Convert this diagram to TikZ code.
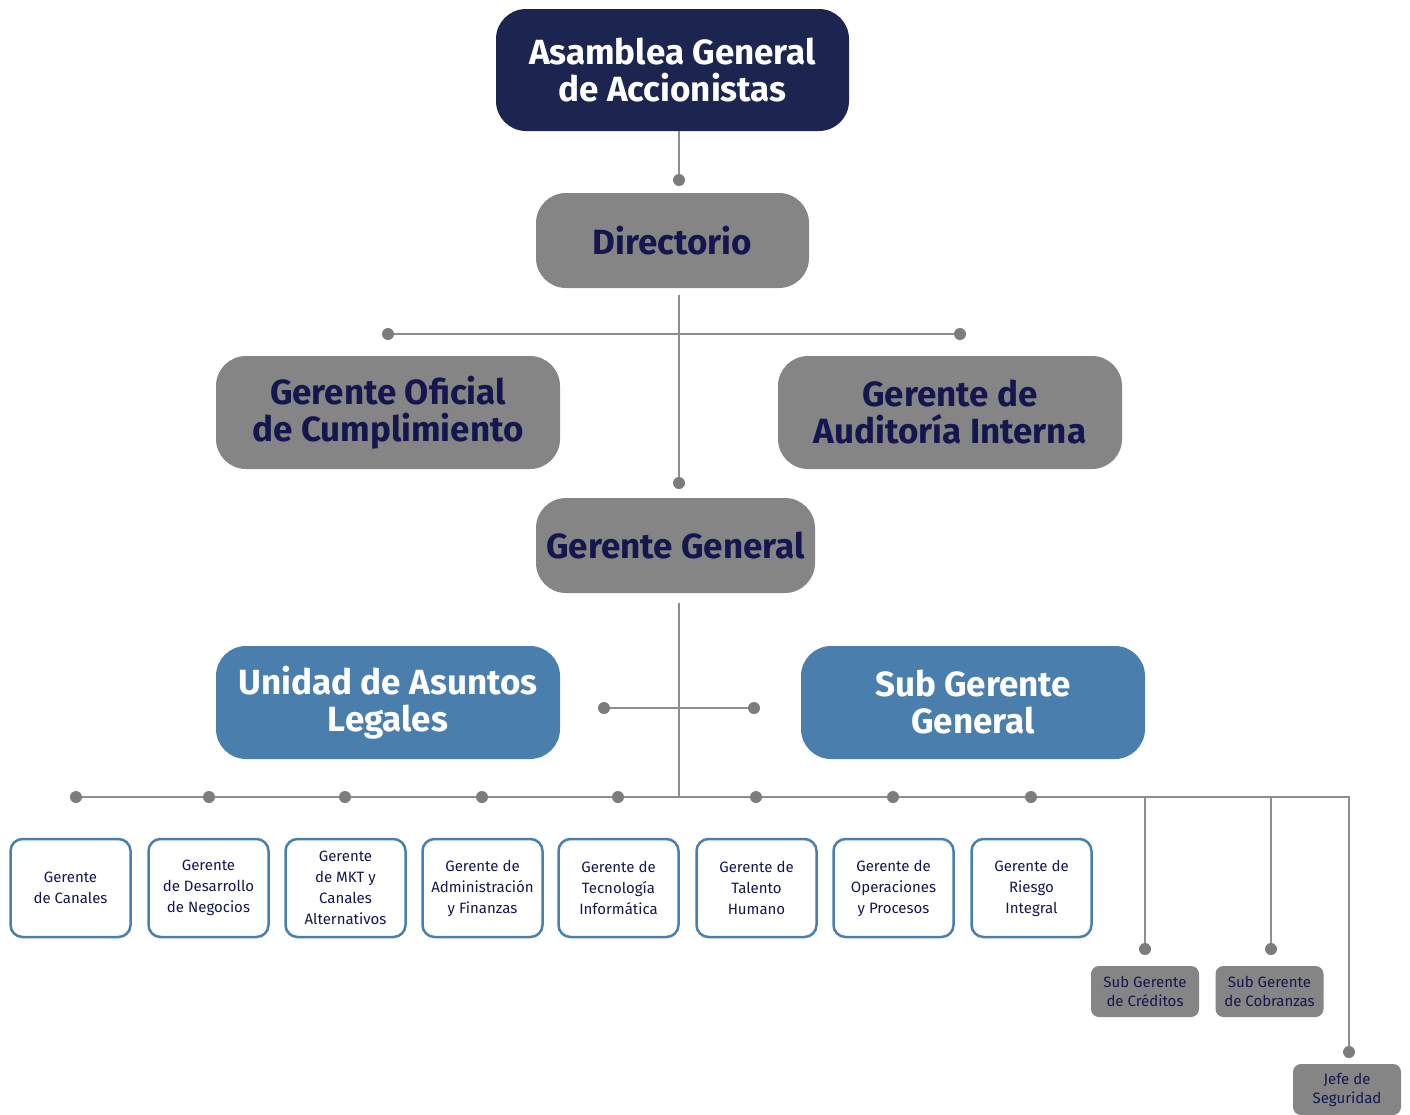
\documentclass[tikz,border=0pt]{standalone}
\usepackage{fontspec}
\setmainfont{Fira Sans}
\usetikzlibrary{positioning}
\definecolor{navy}{HTML}{1B2550}
\definecolor{boxgray}{HTML}{858585}
\definecolor{ink}{HTML}{16164F}
\definecolor{steel}{HTML}{4A7FAD}
\definecolor{wiregray}{HTML}{8E8E8E}
\definecolor{dotgray}{HTML}{7C7C7C}

\tikzset{
	bigbox/.style={rounded corners=15pt, align=center, inner sep=0pt, font=\fontsize{17.5}{18.5}\selectfont\bfseries},
	topbox/.style={bigbox, fill=navy, text=white},
	graybox/.style={bigbox, fill=boxgray, text=ink},
	bluebox/.style={bigbox, fill=steel, text=white},
	unitbox/.style={draw=steel, line width=1.25pt, fill=white, rounded corners=6pt, minimum width=60pt, minimum height=49pt, align=center, inner sep=0pt, text=ink, font=\fontsize{7.5}{10.5}\selectfont},
	subbox/.style={fill=boxgray, text=ink, rounded corners=4pt, minimum width=54pt, minimum height=25.5pt, align=center, inner sep=0pt, font=\fontsize{7.5}{9.5}\selectfont},
	wire/.style={draw=wiregray, line width=0.75pt},
	jdot/.style={fill=dotgray}
}

\begin{document}
\begin{tikzpicture}[x=0.5pt, y=-0.5pt]
	\useasboundingbox (0,0) rectangle (1410,1115);
	% junction points
	\coordinate (jdir) at (679,180);
	\coordinate (jgg) at (679,483);
	\coordinate (jofi) at (388,334);
	\coordinate (jaud) at (960,334);
	\coordinate (jleg) at (604,708);
	\coordinate (jsgg) at (754,708);
	\coordinate (jbus) at (679,797);
	\coordinate (jcre) at (1145,949);
	\coordinate (jcob) at (1271,949);
	\coordinate (jseg) at (1349,1052);
	\foreach \n/\x in {1/76,2/209,3/345,4/482,5/618,6/756,7/893,8/1031}
		\coordinate (b\n) at (\x,797);

	% boxes
	\node[topbox, minimum width=176.5pt, minimum height=61pt] (asamblea) at (672.5,70) {Asamblea General\\de Accionistas};
	\node[graybox, minimum width=136.5pt, minimum height=47.5pt] (directorio) at (672.5,240.5) {Directorio};
	\node[graybox, minimum width=172pt, minimum height=56.5pt] (oficial) at (388,412.5) {Gerente Oficial\\de Cumplimiento};
	\node[graybox, minimum width=172pt, minimum height=56.5pt] (auditoria) at (950,412.5) {Gerente de\\Auditoría Interna};
	\node[graybox, minimum width=139.5pt, minimum height=47.5pt] (general) at (675.5,545.5) {Gerente General};
	\node[bluebox, minimum width=172pt, minimum height=56.5pt] (legales) at (388,702.5) {Unidad de Asuntos\\Legales};
	\node[bluebox, minimum width=172pt, minimum height=56.5pt] (subgeneral) at (973,702.5) {Sub Gerente\\General};
	\foreach \n/\x/\t in {
		1/70.5/{Gerente\\de Canales},
		2/208.5/{Gerente\\de Desarrollo\\de Negocios},
		3/345.5/{Gerente\\de MKT y\\Canales\\Alternativos},
		4/482.5/{Gerente de\\Administración\\y Finanzas},
		5/618.5/{Gerente de\\Tecnología\\Informática},
		6/756.5/{Gerente de\\Talento\\Humano},
		7/893.5/{Gerente de\\Operaciones\\y Procesos},
		8/1031.5/{Gerente de\\Riesgo\\Integral}}
		\node[unitbox] (g\n) at (\x,888) {\t};
	\node[subbox] (creditos) at (1145,991.5) {Sub Gerente\\de Créditos};
	\node[subbox] (cobranzas) at (1269.5,991.5) {Sub Gerente\\de Cobranzas};
	\node[subbox] (seguridad) at (1347,1089.5) {Jefe de\\Seguridad};

	% connectors
	\draw[wire] (jdir |- asamblea.south) -- (jdir);
	\draw[wire] ([yshift=-3.5pt]jgg |- directorio.south) -- (jgg);
	\draw[wire] (jofi) -- (jaud);
	\draw[wire] ([yshift=-5pt]jbus |- general.south) -- (jbus);
	\draw[wire] (jleg) -- (jsgg);
	\draw[wire] (b1) -- (jbus) -| (jseg);
	\draw[wire] (jcre |- jbus) -- (jcre);
	\draw[wire] (jcob |- jbus) -- (jcob);

	% dots
	\foreach \p in {jdir,jgg,jofi,jaud,jleg,jsgg,jcre,jcob,jseg,b1,b2,b3,b4,b5,b6,b7,b8}
		\fill[jdot] (\p) circle (3pt);
\end{tikzpicture}
\end{document}
